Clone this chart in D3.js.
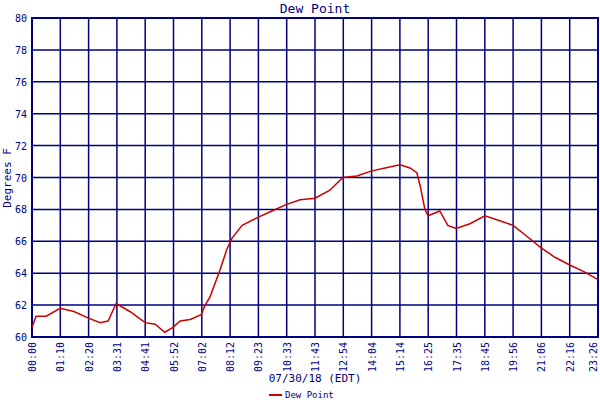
<!DOCTYPE html>
<html><head><meta charset="utf-8">
<script src="https://cdn.jsdelivr.net/npm/d3@7"></script>
<style>body{margin:0;background:#fff}text{font-family:"DejaVu Sans Mono",monospace;fill:#000080}</style>
</head><body>
<svg id="c" width="600" height="400"></svg>
<script>
const tickLabels = ['00:00','01:10','02:20','03:31','04:41','05:52','07:02','08:12','09:23','10:33','11:43','12:54','14:04','15:14','16:25','17:35','18:45','19:56','21:06','22:16','23:26'];
const minutes = [0,10,35,70,104,139,169,189,209,243,281,306,330,350,368,393,420,430,442,467,484,497,522,561,596,631,666,703,740,772,
  807,842,877,914,939,956,964,976,984,1013,1033,1053,1088,1125,1160,1195,1230,1264,1299,1337,1371,1406];
const dewPoint = [60.6,61.3,61.3,61.8,61.6,61.2,60.9,61.0,62.1,61.6,60.9,60.8,60.3,60.6,61.0,61.1,61.4,62.0,62.5,64.2,65.5,66.2,67.0,67.5,67.9,68.3,68.6,68.7,69.2,70.0,
  70.1,70.4,70.6,70.8,70.6,70.3,69.5,68.0,67.6,67.9,67.0,66.8,67.1,67.6,67.3,67.0,66.3,65.6,65.0,64.5,64.1,63.6];

const svg = d3.select('#c');
const m = {l: 32, r: 598, t: 18, b: 337};
const x = d3.scaleLinear().domain([0, 1406]).range([m.l, m.r]);
const y = d3.scaleLinear().domain([60, 80]).range([m.b, m.t]);

const g = svg.append('g');
g.selectAll('.hg').data(d3.range(60, 81, 2)).enter().append('line')
  .attr('x1', m.l).attr('x2', m.r).attr('y1', d => y(d)).attr('y2', d => y(d))
  .attr('stroke', '#000080').attr('stroke-width', 1.5);
g.selectAll('.vg').data(tickLabels).enter().append('line')
  .attr('x1', (d, i) => x(i * 1406 / 20)).attr('x2', (d, i) => x(i * 1406 / 20))
  .attr('y1', m.t).attr('y2', m.b).attr('stroke', '#000080').attr('stroke-width', 1.5);
g.append('rect').attr('x', m.l).attr('y', m.t).attr('width', m.r - m.l).attr('height', m.b - m.t)
  .attr('fill', 'none').attr('stroke', '#000080').attr('stroke-width', 2);

g.selectAll('.yl').data(d3.range(60, 81, 2)).enter().append('text')
  .attr('x', 27).attr('y', d => y(d) + 4).attr('text-anchor', 'end').attr('font-size', 10).text(d => d);
g.selectAll('.xl').data(tickLabels).enter().append('text')
  .attr('transform', (d, i) => `translate(${Math.min(x(i * 1406 / 20) + 4, 597)},342) rotate(-90)`)
  .attr('text-anchor', 'end').attr('font-size', 10).text(d => d);

const line = d3.line().x((d, i) => x(minutes[i])).y(d => y(d));
g.append('path').datum(dewPoint).attr('d', line)
  .attr('fill', 'none').attr('stroke', '#cc0000').attr('stroke-width', 1.5);

svg.append('text').attr('x', 315).attr('y', 13).attr('text-anchor', 'middle').attr('font-size', 13).text('Dew Point');
svg.append('text').attr('transform', 'translate(11,178) rotate(-90)').attr('text-anchor', 'middle').attr('font-size', 11).text('Degrees F');
svg.append('text').attr('x', 315).attr('y', 382).attr('text-anchor', 'middle').attr('font-size', 11).text('07/30/18 (EDT)');
svg.append('line').attr('x1', 269).attr('x2', 282).attr('y1', 395).attr('y2', 395).attr('stroke', '#cc0000').attr('stroke-width', 2);
svg.append('text').attr('x', 285).attr('y', 398).attr('font-size', 9).text('Dew Point');
</script>
</body></html>
